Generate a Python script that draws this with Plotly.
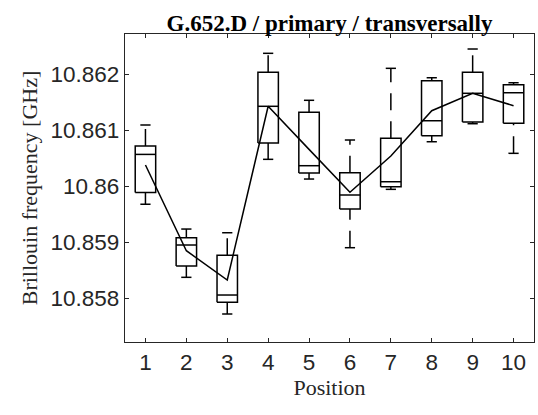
import plotly.graph_objects as go

positions = [1, 2, 3, 4, 5, 6, 7, 8, 9, 10]
upper_whisker = [10.861095, 10.859237, 10.859171, 10.862375, 10.861536, 10.860827, 10.862107, 10.861939, 10.862452, 10.861850]
q3 = [10.860720, 10.859082, 10.858768, 10.862036, 10.861321, 10.860243, 10.860857, 10.861886, 10.862036, 10.861814]
median = [10.860570, 10.858952, 10.858059, 10.861429, 10.860368, 10.859845, 10.860082, 10.861171, 10.861661, 10.861671]
q1 = [10.859890, 10.858577, 10.857929, 10.860773, 10.860238, 10.859595, 10.859993, 10.860904, 10.861148, 10.861125]
lower_whisker = [10.859680, 10.858375, 10.857720, 10.860482, 10.860130, 10.858904, 10.859946, 10.860796, 10.861118, 10.860589]
mean = [10.860380, 10.858850, 10.858327, 10.861430, 10.860660, 10.859893, 10.860540, 10.861350, 10.861660, 10.861440]

ytick_vals = [10.858, 10.859, 10.860, 10.861, 10.862]
ytick_text = ["10.858", "10.859", "10.86", "10.861", "10.862"]

BOX_HALF = 0.25
CAP_HALF = 0.125
LINE = "#000000"
AX = "#262626"

bx, by, mx, my, uwx, uwy, lwx, lwy, cx, cy = [], [], [], [], [], [], [], [], [], []
for p, hi, a, m, b, lo in zip(positions, upper_whisker, q3, median, q1, lower_whisker):
    bx += [p - BOX_HALF, p + BOX_HALF, p + BOX_HALF, p - BOX_HALF, p - BOX_HALF, None]
    by += [b, b, a, a, b, None]
    mx += [p - BOX_HALF, p + BOX_HALF, None]
    my += [m, m, None]
    uwx += [p, p, None]
    uwy += [a, hi, None]
    lwx += [p, p, None]
    lwy += [lo, b, None]
    cx += [p - CAP_HALF, p + CAP_HALF, None, p - CAP_HALF, p + CAP_HALF, None]
    cy += [hi, hi, None, lo, lo, None]

fig = go.Figure()
common = dict(mode="lines", hoverinfo="skip", showlegend=False)
fig.add_trace(go.Scatter(x=uwx, y=uwy, line=dict(color=LINE, width=1.5, dash="17px,11px"), **common))
fig.add_trace(go.Scatter(x=lwx, y=lwy, line=dict(color=LINE, width=1.5, dash="17px,11px"), **common))
fig.add_trace(go.Scatter(x=cx, y=cy, line=dict(color=LINE, width=1.5), **common))
fig.add_trace(go.Scatter(x=bx, y=by, line=dict(color=LINE, width=1.5), **common))
fig.add_trace(go.Scatter(x=mx, y=my, line=dict(color=LINE, width=1.5), **common))
fig.add_trace(go.Scatter(x=positions, y=mean, line=dict(color=LINE, width=1.5), **common))

fig.update_layout(
    width=538, height=415,
    margin=dict(l=125, r=4, t=34, b=73),
    paper_bgcolor="white", plot_bgcolor="white",
    title=dict(text="<b>G.652.D / primary / transversally</b>",
               font=dict(family="Liberation Serif", size=23, color="black"),
               x=0.5, xref="paper", xanchor="center", y=1, yref="paper", yanchor="bottom", pad=dict(b=3)),
    xaxis=dict(range=[0.5, 10.5], tickmode="array", tickvals=positions, ticktext=[str(p) for p in positions],
               ticks="inside", ticklen=4, tickcolor=AX, showline=True, linecolor=AX, linewidth=1.2, mirror="ticks",
               showgrid=False, zeroline=False,
               tickfont=dict(family="Liberation Sans", size=22.5, color="#262626"),
               title=dict(text="Position", font=dict(family="Liberation Serif", size=22, color="#262626"), standoff=4)),
    yaxis=dict(range=[10.85722, 10.86272], tickmode="array", tickvals=ytick_vals, ticktext=ytick_text,
               ticks="inside", ticklen=4, tickcolor=AX, showline=True, linecolor=AX, linewidth=1.2, mirror="ticks",
               showgrid=False, zeroline=False,
               tickfont=dict(family="Liberation Sans", size=22.5, color="#262626"),
               title=dict(text="Brillouin frequency [GHz]", font=dict(family="Liberation Serif", size=22, color="#262626"), standoff=6)),
)

fig.write_html("out.html")
